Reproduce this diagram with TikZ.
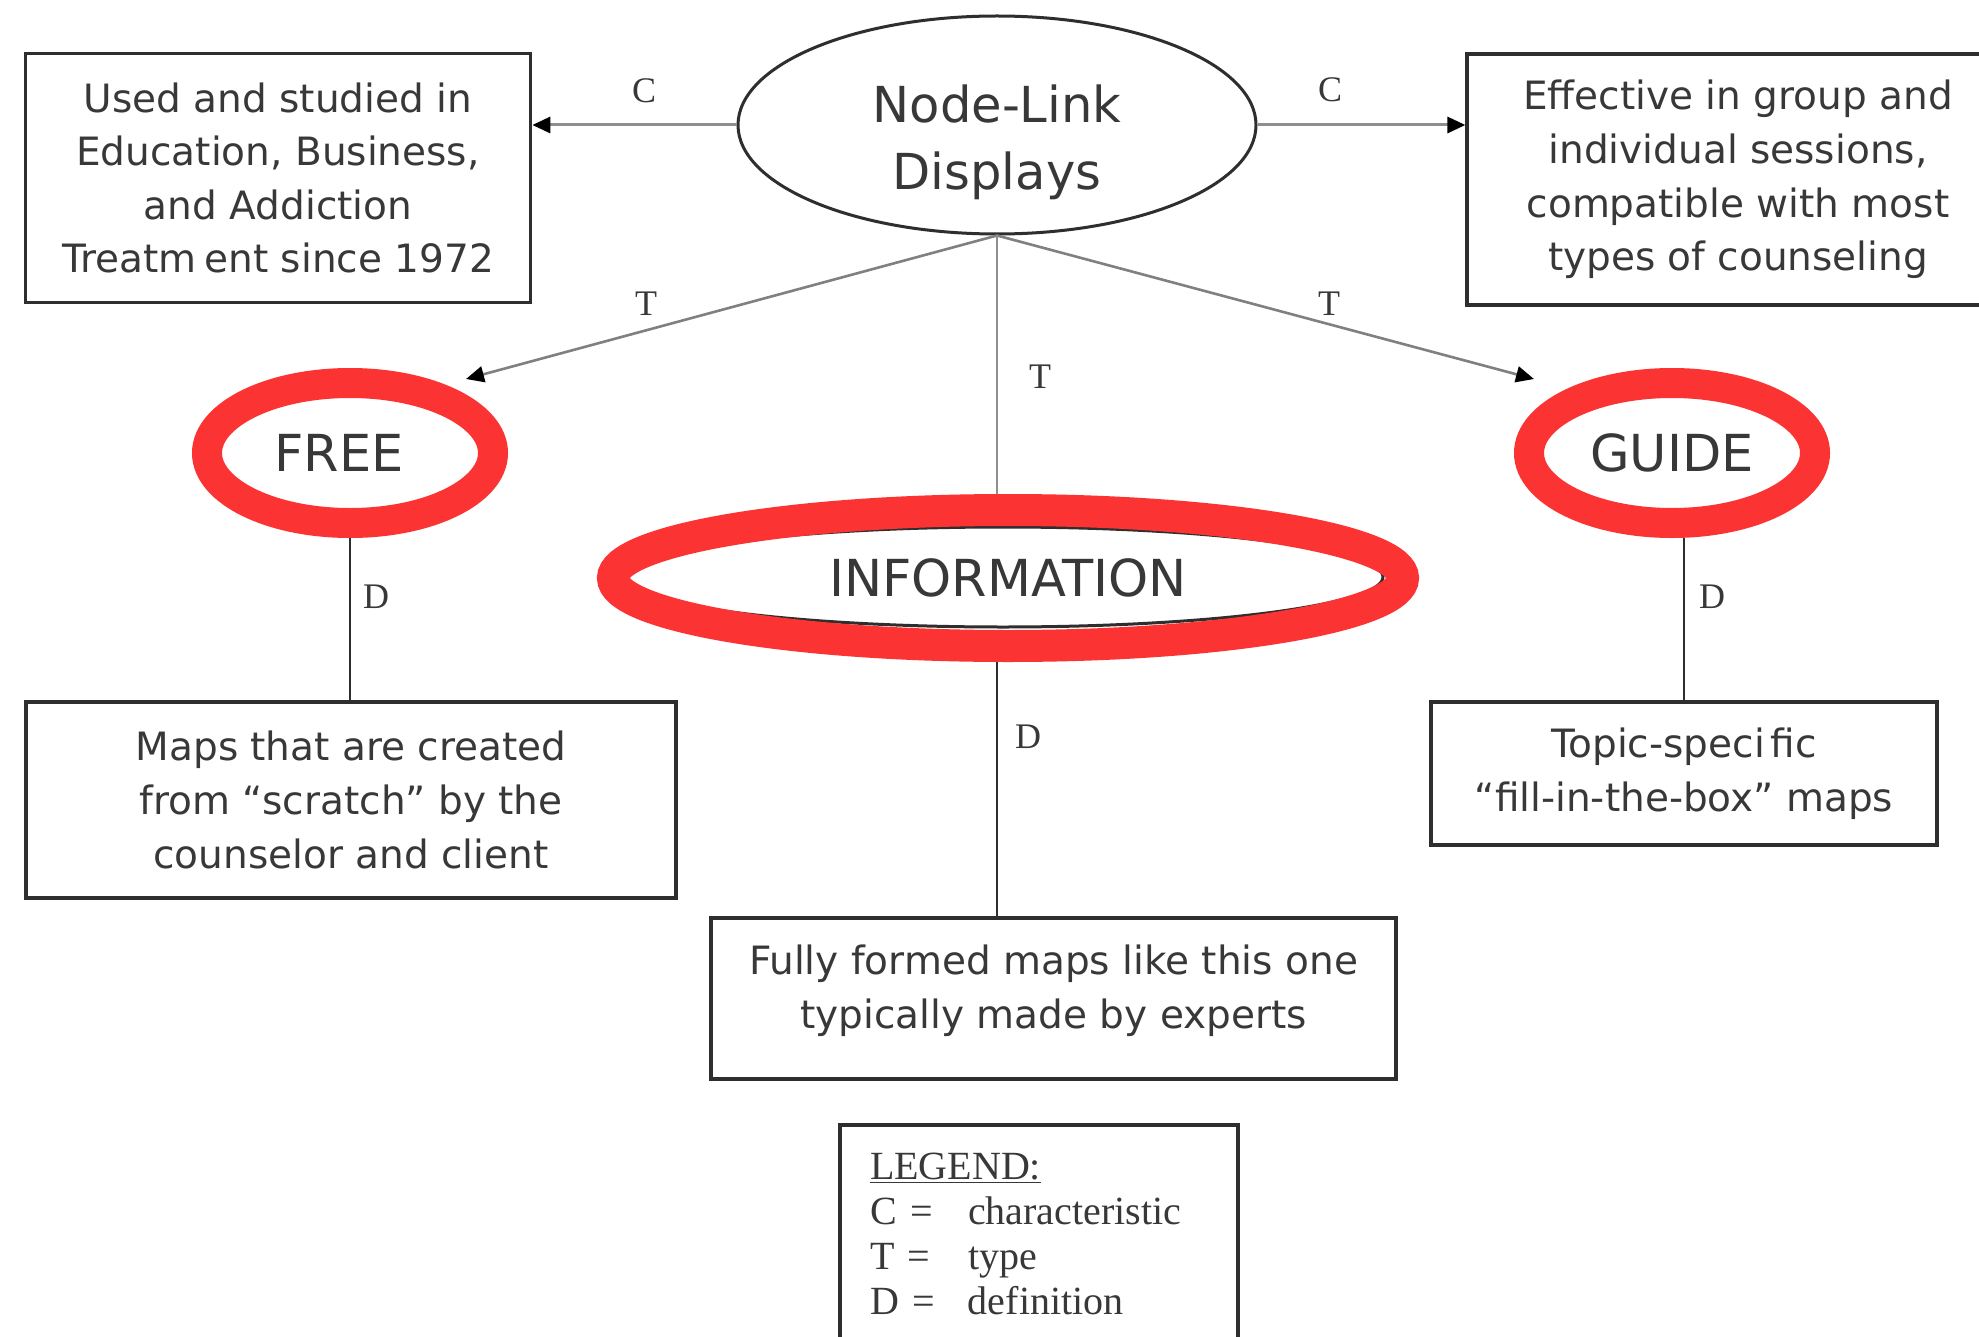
\documentclass[tikz,border=0pt]{standalone}
\usepackage{fontspec}
\setmainfont{DejaVu Sans}
\newfontfamily\serifface{Liberation Serif}
\usetikzlibrary{shapes.geometric,arrows.meta}
\definecolor{ink}{HTML}{383838}
\definecolor{edgeink}{HTML}{2E2E2E}
\definecolor{ringred}{HTML}{FC3333}
\definecolor{linkgray}{HTML}{8E8E8E}
\begin{document}
\begin{tikzpicture}[x=0.5pt,y=-0.5pt,
  box/.style={draw=edgeink, line width=1.6pt, text=ink, align=center, inner sep=0pt,
    font=\fontsize{19.5}{26.8}\selectfont},
  ring/.style={ellipse, draw=ringred, line width=15pt, text=ink, inner sep=0pt,
    font=\fontsize{25.5}{30}\selectfont},
  lbl/.style={text=ink, inner sep=0pt, font=\serifface\fontsize{18}{20}\selectfont},
  head/.style={-{Triangle[length=9pt,width=8pt,color=black]}},
  carrow/.style={head, draw=linkgray, line width=1.5pt},
  tarrow/.style={head, draw=gray, line width=1.3pt},
  tline/.style={draw=linkgray, line width=1.2pt},
  dline/.style={draw=edgeink, line width=1.3pt}
]
\useasboundingbox (0,0) rectangle (1979,1337);
\clip (0,0) rectangle (1979,1337);
\fill[white] (0,0) rectangle (1979,1337);

% top concept (text sits a little below the ellipse centre)
\node[ellipse, draw=edgeink, line width=1.5pt, text=ink, inner sep=0pt,
      minimum width=259pt, minimum height=109pt,
      font=\fontsize{24.8}{33.5}\selectfont] (nl) at (997,125)
  {\raisebox{-15pt}[0pt][0pt]{\begin{tabular}{@{}c@{}}Node-Link\\Displays\end{tabular}}};

% characteristic boxes
\node[box, minimum width=252.75pt, minimum height=124.2pt] (lbox) at (278,178)
  {Used and studied in\\Education, Business,\\and Addiction\\Treatm\kern4pt ent since 1972};
\node[box, minimum width=271pt, minimum height=125.5pt] (rbox) at (1738,179.5)
  {Effective in group and\\individual sessions,\\compatible with most\\types of counseling};

% type nodes
\node[ellipse, draw=edgeink, line width=1.5pt, minimum width=380pt, minimum height=50pt]
  (infocore) at (1003,577) {};
\node[ring, minimum width=143pt, minimum height=70pt] (free) at (350,453) {FREE\hspace*{11pt}};
\node[ring, minimum width=143pt, minimum height=70pt] (guide) at (1672,453) {GUIDE};
\node[ring, line width=16pt, minimum width=395pt, minimum height=68pt] (info) at (1008,578)
  {INFORMATION};

% definition boxes
\node[box, minimum width=253pt, minimum height=71.5pt] (gdef) at (1684,773.5)
  {Topic-speci\kern3pt fic\\“fill-in-the-box” maps};
\node[box, minimum width=325pt, minimum height=98pt] (fdef) at (351,800)
  {Maps that are created\\from “scratch” by the\\counselor and client};
\node[box, minimum width=342.5pt, minimum height=80.5pt] (idef) at (1053.5,998.5)
  {\raisebox{-1.4pt}[0pt][0pt]{\begin{tabular}{@{}c@{}}Fully formed maps like this one\\typically made by experts\end{tabular}}};

% legend
\node[draw=edgeink, line width=1.6pt, text=ink, align=left, inner xsep=15pt, inner ysep=0pt,
      text width=169pt, minimum height=108.5pt,
      font=\serifface\fontsize{20}{22.5}\selectfont] (legend) at (1039,1233.5)
  {\underline{LEGEND:}\\
   \makebox[49pt][l]{C =}characteristic\\
   \makebox[49pt][l]{T =}type\\
   \makebox[49pt][l]{D =}definition};

% arrow ends near the type nodes
\coordinate (tl) at (466,379);
\coordinate (tr) at (1534,379);

% connectors
\draw[carrow] (nl.west) -- (nl.west -| lbox.east);
\draw[carrow] (nl.east) -- (nl.east -| rbox.west);
\draw[tarrow] (nl.south) -- (tl);
\draw[tarrow] (nl.south) -- (tr);
\draw[tline] (nl.south) -- (nl.south |- info.north);
\draw[dline] (free.south) -- (free.south |- fdef.north);
\draw[dline] (guide.south -| gdef.north) -- (gdef.north);
\draw[dline] (nl.south |- info.south) -- (nl.south |- idef.north);

% link labels
\node[lbl] (lc) at (644,91) {C};
\node[lbl] (rc) at (1330,90) {C};
\node[lbl] (lt) at (646,304) {T};
\node[lbl] (rt) at (1329,304) {T};
\node[lbl] (mt) at (1040,377) {T};
\node[lbl] (fd) at (376,597) {D};
\node[lbl] (gd) at (1712,597) {D};
\node[lbl] (id) at (1028,737) {D};
\end{tikzpicture}
\end{document}
